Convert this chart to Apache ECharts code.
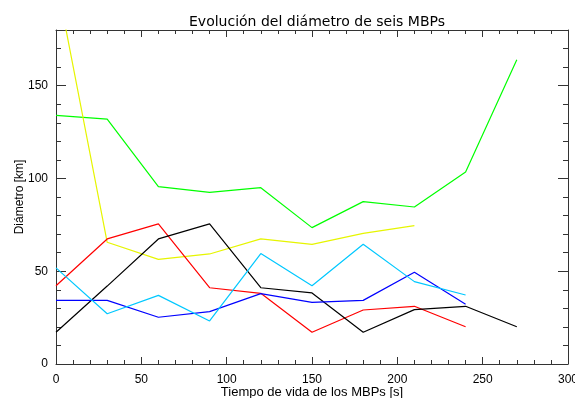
<!DOCTYPE html>
<html>
<head>
<meta charset="utf-8">
<script src="https://cdn.jsdelivr.net/npm/echarts@6/dist/echarts.min.js"></script>
<style>html,body{margin:0;padding:0;background:#fff}#c{width:575px;height:398px}</style>
</head>
<body>
<div id="c"></div>
<script>
var times = [0, 30, 60, 90, 120, 150, 180, 210, 240, 270];
var green  = [134, 132, 95.6, 92.5, 95, 73.5, 87.5, 84.6, 103.5, 164];
var yellow = [208, 65.6, 56.4, 59.3, 67.4, 64.5, 70.4, 74.6];
var red    = [42.2, 67.4, 75.5, 41.1, 38.1, 17.1, 29.1, 31.1, 20.1];
var black  = [17.1, 42, 67.4, 75.5, 41.1, 38.3, 17.1, 29.3, 31.1, 20.1];
var blue   = [34.3, 34.3, 25.2, 28.2, 37.9, 33.2, 34.3, 49.4, 32.2];
var cyan   = [51.8, 27.1, 37.0, 23.2, 59.5, 42.2, 64.5, 44.4, 37.2];
var xTicks = [0, 50, 100, 150, 200, 250, 300];
var yTicks = [0, 50, 100, 150];

function pairs(v){ return v.map(function(y,i){ return [times[i], y]; }); }
var FONT = 'Liberation Sans';
var axisCol = '#333';

function xAx(pos, interval, len, labels, line){
  return {type:'value', position:pos, min:0, max:300, interval:interval,
    axisLine:{show:line, onZero:false, lineStyle:{color:axisCol, width:1}},
    axisTick:{show:true, inside:true, length:len, lineStyle:{color:axisCol}},
    axisLabel:{show:labels, color:'#000', fontFamily:FONT, fontSize:12, margin:10},
    splitLine:{show:false},
    name: labels ? 'Tiempo de vida de los MBPs [s]' : '',
    nameLocation:'middle', nameGap:22, nameMoveOverlap:false,
    nameTextStyle:{color:'#000', fontFamily:FONT, fontSize:13}};
}
function yAx(pos, interval, len, labels, line){
  return {type:'value', position:pos, min:0, max:180, interval:interval,
    axisLine:{show:line, onZero:false, lineStyle:{color:axisCol, width:1}},
    axisTick:{show:true, inside:true, length:len, lineStyle:{color:axisCol}},
    axisLabel:{show:labels, color:'#000', fontFamily:FONT, fontSize:12, margin:8, showMaxLabel:false},
    splitLine:{show:false},
    name: labels ? 'Diámetro [km]' : '',
    nameLocation:'middle', nameGap:30, nameMoveOverlap:false,
    nameTextStyle:{color:'#000', fontFamily:FONT, fontSize:12}};
}

function ser(name, vals, color){
  return {name:name, type:'line', data:pairs(vals), xAxisIndex:0, yAxisIndex:0,
    symbol:'none', clip:true, lineStyle:{color:color, width:1.2}, itemStyle:{color:color},
    emphasis:{disabled:true}, silent:true};
}

var chart = echarts.init(document.getElementById('c'), null, {renderer:'canvas'});
chart.setOption({
  animation:false,
  backgroundColor:'#fff',
  title:{text:'Evolución del diámetro de seis MBPs', left:312, top:10, textAlign:'center',
    textStyle:{color:'#000', fontFamily:'DejaVu Sans', fontSize:14, fontWeight:'normal'}},
  grid:{left:56, right:7, top:30, bottom:34, containLabel:false, outerBoundsMode:'none'},
  xAxis:[xAx('bottom',50,7,true,true), xAx('bottom',10,4,false,false),
         xAx('top',50,7,false,true), xAx('top',10,4,false,false)],
  yAxis:[yAx('left',50,10,true,true), yAx('left',10,5,false,false),
         yAx('right',50,10,false,true), yAx('right',10,5,false,false)],
  series:[
    ser('green', green, '#00ff00'),
    ser('yellow', yellow, '#e6f500'),
    ser('red', red, '#ff0000'),
    ser('black', black, '#000000'),
    ser('blue', blue, '#0000ff'),
    ser('cyan', cyan, '#00c8ff')
  ]
});
</script>
</body>
</html>
